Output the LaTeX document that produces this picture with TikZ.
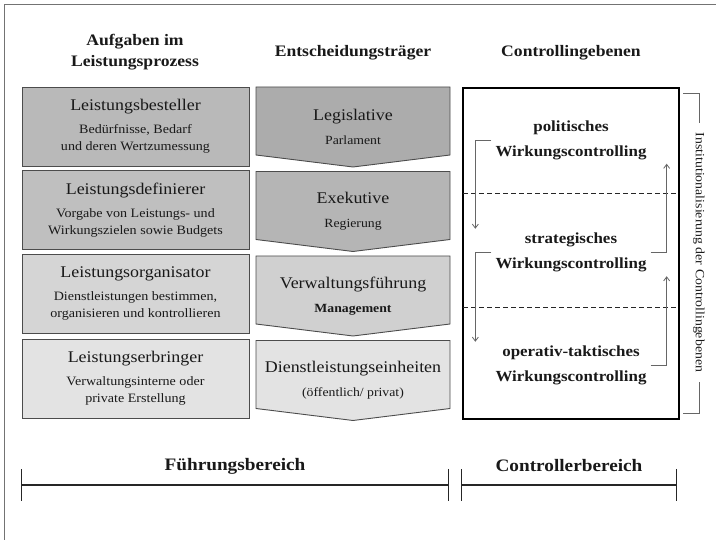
\documentclass[tikz,border=0pt]{standalone}
\usepackage{fontspec}
\setmainfont{Liberation Serif}[FakeStretch=1.1]
\usepackage{tikz}
\usetikzlibrary{calc, arrows.meta, positioning, backgrounds, shadows}

\begin{document}
\begin{tikzpicture}[
    x=1pt, y=-1pt,
    >={Straight Barb[length=4pt, width=6pt]},
    headlbl/.style={align=center, text=black!90, font=\bfseries\fontsize{16}{21}\selectfont},
    taskbox/.style={rectangle, draw=black!70, line width=0.9pt, minimum width=227pt, minimum height=79pt, outer sep=0pt, inner sep=2pt, align=center, text=black!90, font=\fontsize{12.8}{17}\selectfont},
    deciderlbl/.style={rectangle, minimum width=194pt, minimum height=80pt, outer sep=0pt, inner sep=2pt, align=center, text=black!90, font=\fontsize{12.5}{17}\selectfont},
    chevron/.style={draw=black!70, line width=0.9pt},
    ctrlframe/.style={rectangle, draw=black, line width=1.3pt, fill=white, minimum width=216pt, minimum height=331pt, outer sep=0pt, drop shadow={shadow xshift=1.2pt, shadow yshift=-1.2pt, fill=black!45}},
    levellbl/.style={align=center, inner sep=4pt, text=black!90, font=\bfseries\fontsize{15.4}{25}\selectfont},
    levelsep/.style={draw=black!85, line width=0.9pt, dash pattern=on 5pt off 3pt},
    loopline/.style={draw=black!60, line width=0.8pt, ->},
    bracket/.style={draw=black!60, line width=0.8pt},
    instlbl/.style={rotate=-90, inner sep=0pt, text=black!90, font=\fontsize{12.6}{15}\selectfont},
    arealbl/.style={text=black!90, font=\bfseries\fontsize{17.5}{21}\selectfont},
    spanline/.style={draw=black!85, line width=1.4pt, {Bar[width=32pt]}-{Bar[width=32pt]}}
]
    \useasboundingbox (0,0) rectangle (716,540);
    \draw [black!55, line width=0.6pt] (716,4) -- (4,4) -- (4,540);

    % Spaltenköpfe
    \node [headlbl] (headTask) at (135,52.5) {Aufgaben im\\Leistungsprozess};
    \node [headlbl] (headDecider) at (353,52.5) {Entscheidungsträger};
    \node [headlbl] (headCtrl) at (571,52.5) {Controllingebenen};

    % Aufgaben
    \node [taskbox, fill=gray!55] (besteller) at (135.5,126.5) {
        {\fontsize{16.3}{20}\selectfont Leistungsbesteller}\\[6pt]
        Bedürfnisse, Bedarf\\und deren Wertzumessung
    };
    \node [taskbox, fill=gray!50] (definierer) at (135.5,210) {
        {\fontsize{16.3}{20}\selectfont Leistungsdefinierer}\\[6pt]
        Vorgabe von Leistungs- und\\Wirkungszielen sowie Budgets
    };
    \node [taskbox, fill=gray!33] (organisator) at (135.5,293.5) {
        {\fontsize{16.3}{20}\selectfont Leistungsorganisator}\\[6pt]
        Dienstleistungen bestimmen,\\organisieren und kontrollieren
    };
    \node [taskbox, fill=gray!22] (erbringer) at (135.5,378.5) {
        {\fontsize{16.3}{20}\selectfont Leistungserbringer}\\[6pt]
        Verwaltungsinterne oder\\private Erstellung
    };

    % Entscheidungsträger
    \node [deciderlbl] (legis) at (353,127) {
        {\fontsize{16.3}{20}\selectfont Legislative}\\[7pt]Parlament
    };
    \node [deciderlbl] (exek) at (353,211.5) {
        {\fontsize{16.3}{20}\selectfont Exekutive}\\[7pt]Regierung
    };
    \node [deciderlbl] (vwf) at (353,296) {
        {\fontsize{16.3}{20}\selectfont Verwaltungsführung}\\[7pt]\textbf{Management}
    };
    \node [deciderlbl] (dle) at (353,380.5) {
        {\fontsize{16.3}{20}\selectfont Dienstleistungseinheiten}\\[7pt](öffentlich/ privat)
    };

    \begin{scope}[on background layer]
        \foreach \n/\c in {legis/65, exek/58, vwf/37, dle/22}
            \filldraw [chevron, fill=gray!\c] (\n.north west) -- (\n.north east) -- ([yshift=12pt]\n.south east)
                -- (\n.south) -- ([yshift=12pt]\n.south west) -- cycle;
    \end{scope}

    % Controllingebenen
    \node [ctrlframe] (ctrl) at (571,253.5) {};
    \draw [levelsep] ($(ctrl.north west)!0.32!(ctrl.south west)$) -- ($(ctrl.north east)!0.32!(ctrl.south east)$);
    \draw [levelsep] ($(ctrl.north west)!0.662!(ctrl.south west)$) -- ($(ctrl.north east)!0.662!(ctrl.south east)$);

    \node [levellbl] (pol) at (571,140) {politisches\\Wirkungscontrolling};
    \node [levellbl] (strat) at (571,252.5) {strategisches\\Wirkungscontrolling};
    \node [levellbl] (oper) at (571,365.5) {operativ-taktisches\\Wirkungscontrolling};

    \draw [loopline] (pol.west) -| ([xshift=-16pt]pol.west |- strat.north);
    \draw [loopline] (strat.west) -| ([xshift=-16pt]strat.west |- oper.north);
    \draw [loopline] (strat.east) -| ([xshift=16pt]strat.east |- pol.south);
    \draw [loopline] (oper.east) -| ([xshift=16pt]oper.east |- strat.south);

    \node [instlbl] (inst) at (699,252.5) {Institutionalisierung der Controllingebenen};
    \draw [bracket] ([xshift=4pt, yshift=-5pt]ctrl.north east) -| ([yshift=10pt]inst.west);
    \draw [bracket] ([xshift=4pt, yshift=6pt]ctrl.south east) -| ([yshift=-10pt]inst.east);

    % Bereiche
    \node [arealbl] (fuehr) at (235,466) {Führungsbereich};
    \node [arealbl] (ctrlr) at (569,466) {Controllerbereich};
    \coordinate (fuehrL) at (21,485);
    \coordinate (fuehrR) at (449,485);
    \coordinate (ctrlrL) at (461,485);
    \coordinate (ctrlrR) at (677,485);
    \draw [spanline] (fuehrL) -- (fuehrR);
    \draw [spanline] (ctrlrL) -- (ctrlrR);

\end{tikzpicture}
\end{document}
